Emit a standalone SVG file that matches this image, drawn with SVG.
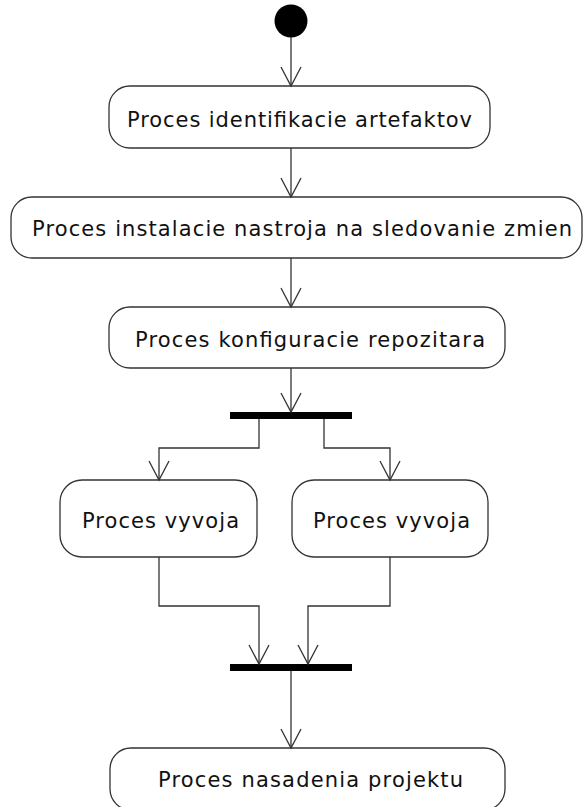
<svg xmlns="http://www.w3.org/2000/svg" width="583" height="807" viewBox="0 0 583 807">
<style>
.box{fill:#fff;stroke:#333;stroke-width:1.3}
.lbl{font-family:"DejaVu Sans",sans-serif;font-size:21px;fill:#111}
.edge{fill:none;stroke:#333;stroke-width:1.3}
.bar{fill:#000}
</style>
<defs>
<marker id="arr" markerUnits="userSpaceOnUse" markerWidth="24" markerHeight="24" viewBox="-21 -12 24 24" refX="0" refY="0" orient="auto" overflow="visible">
<path d="M-19,-10 L0,0 L-19,10" fill="none" stroke="#333" stroke-width="1.3"/>
</marker>
</defs>
<g id="start"><circle cx="291" cy="21" r="16.5" fill="#000"/></g>
<g id="n1"><rect class="box" x="109" y="86" width="381" height="62" rx="21"/><text class="lbl" x="127" y="127" textLength="345" lengthAdjust="spacing">Proces identifikacie artefaktov</text></g>
<g id="n2"><rect class="box" x="11" y="197" width="571" height="61" rx="21"/><text class="lbl" x="32" y="236" textLength="540" lengthAdjust="spacing">Proces instalacie nastroja na sledovanie zmien</text></g>
<g id="n3"><rect class="box" x="109" y="307" width="396" height="61" rx="21"/><text class="lbl" x="135" y="347" textLength="350" lengthAdjust="spacing">Proces konfiguracie repozitara</text></g>
<g id="fork"><rect class="bar" x="230" y="412" width="122" height="7"/></g>
<g id="n4"><rect class="box" x="60" y="480" width="197" height="77" rx="22"/><text class="lbl" x="82" y="528" textLength="157" lengthAdjust="spacing">Proces vyvoja</text></g>
<g id="n5"><rect class="box" x="292" y="480" width="196" height="77" rx="22"/><text class="lbl" x="313" y="528" textLength="157" lengthAdjust="spacing">Proces vyvoja</text></g>
<g id="join"><rect class="bar" x="230" y="664" width="122" height="7"/></g>
<g id="n6"><rect class="box" x="110" y="748" width="395" height="62" rx="21"/><text class="lbl" x="158" y="787" textLength="305" lengthAdjust="spacing">Proces nasadenia projektu</text></g>
<g id="connectors">
<path class="edge" d="M291,37 L291,86" marker-end="url(#arr)"/>
<path class="edge" d="M291,148 L291,197" marker-end="url(#arr)"/>
<path class="edge" d="M291,258 L291,307" marker-end="url(#arr)"/>
<path class="edge" d="M291,368 L291,412" marker-end="url(#arr)"/>
<path class="edge" d="M259,419 L259,448 L159,448 L159,480" marker-end="url(#arr)"/>
<path class="edge" d="M324,419 L324,448 L390,448 L390,480" marker-end="url(#arr)"/>
<path class="edge" d="M159,557 L159,606 L259,606 L259,664" marker-end="url(#arr)"/>
<path class="edge" d="M390,557 L390,606 L308,606 L308,664" marker-end="url(#arr)"/>
<path class="edge" d="M291,671 L291,748" marker-end="url(#arr)"/>
</g>
</svg>
